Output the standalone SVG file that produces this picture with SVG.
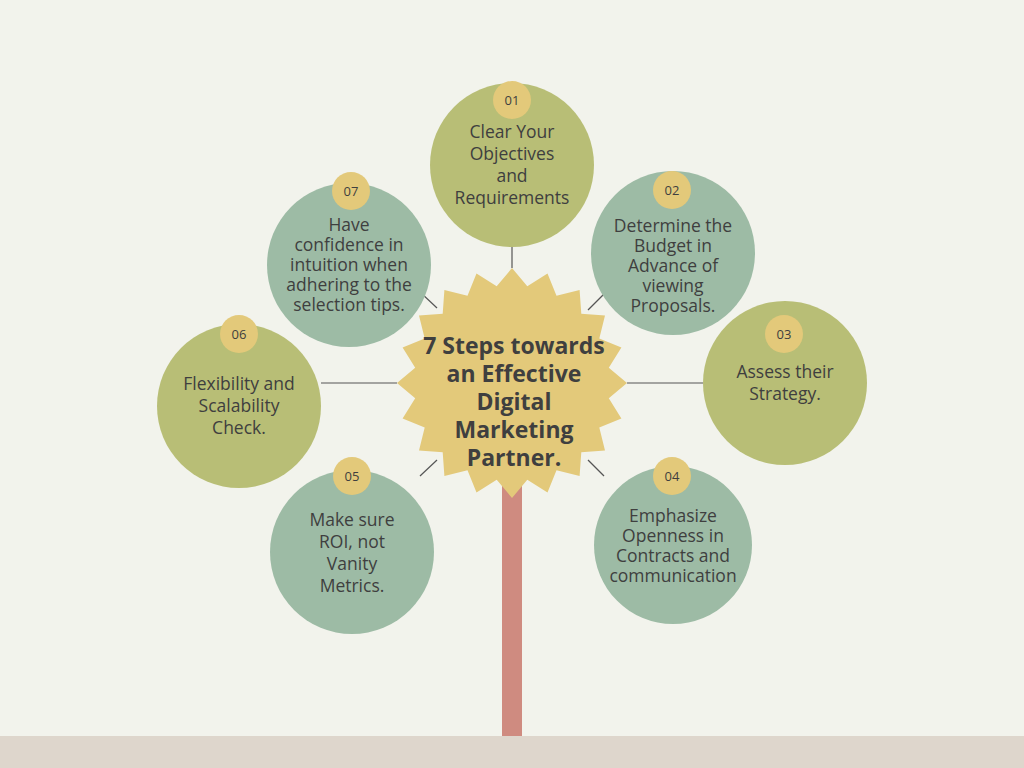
<svg xmlns="http://www.w3.org/2000/svg" width="1024" height="768" viewBox="0 0 1024 768">
<style>
.o{fill:#b8be76}.s{fill:#9dbba5}.b{fill:#e3c97a}
.t{font-family:"Open Sans","Liberation Sans",sans-serif;font-size:17.5px;fill:#3f3f3f;text-anchor:middle}
.n{font-family:"Open Sans","Liberation Sans",sans-serif;font-size:13px;fill:#3f3f3f;text-anchor:middle}
.c{font-family:"Open Sans","Liberation Sans",sans-serif;font-size:23px;font-weight:bold;fill:#3f3f3f;text-anchor:middle}
line{stroke:#555;stroke-width:1.2}
</style>
<rect width="1024" height="768" fill="#f2f3ec"/>
<rect y="736" width="1024" height="32" fill="#ded6cc"/>
<rect x="502" y="480" width="20" height="256" fill="#cf8b80"/>
<g id="connectors">
<line x1="512" y1="230" x2="512" y2="268"/>
<line x1="321" y1="383" x2="397" y2="383"/>
<line x1="627" y1="383" x2="703" y2="383"/>
<line x1="420" y1="292" x2="437" y2="308"/>
<line x1="604" y1="294" x2="588" y2="310"/>
<line x1="420" y1="476" x2="437" y2="460"/>
<line x1="588" y1="460" x2="604" y2="476"/>
</g>
<g id="center">
<polygon class="b" points="512,268 527.3,286.2 547.5,273.6 556.5,295.7 579.6,290 581.3,313.7 605,315.4 599.3,338.5 621.4,347.5 608.8,367.7 627,383 608.8,398.3 621.4,418.5 599.3,427.5 605,450.6 581.3,452.3 579.6,476 556.5,470.3 547.5,492.4 527.3,479.8 512,498 496.7,479.8 476.5,492.4 467.5,470.3 444.4,476 442.7,452.3 419,450.6 424.7,427.5 402.6,418.5 415.2,398.3 397,383 415.2,367.7 402.6,347.5 424.7,338.5 419,315.4 442.7,313.7 444.4,290 467.5,295.7 476.5,273.6 496.7,286.2"/>
<text class="c" x="514" y="354">7 Steps towards<tspan x="514" dy="28">an Effective</tspan><tspan x="514" dy="28">Digital</tspan><tspan x="514" dy="28">Marketing</tspan><tspan x="514" dy="28">Partner.</tspan></text>
</g>
<g id="n01"><circle class="o" cx="512" cy="165" r="82"/><circle class="b" cx="512" cy="100" r="19"/><text class="n" x="512" y="105">01</text>
<text class="t" x="512" y="138">Clear Your<tspan x="512" dy="22">Objectives</tspan><tspan x="512" dy="22">and</tspan><tspan x="512" dy="22">Requirements</tspan></text></g>
<g id="n02"><circle class="s" cx="673" cy="253" r="82"/><circle class="b" cx="672" cy="190" r="19"/><text class="n" x="672" y="195">02</text>
<text class="t" x="673" y="232">Determine the<tspan x="673" dy="20">Budget in</tspan><tspan x="673" dy="20">Advance of</tspan><tspan x="673" dy="20">viewing</tspan><tspan x="673" dy="20">Proposals.</tspan></text></g>
<g id="n03"><circle class="o" cx="785" cy="383" r="82"/><circle class="b" cx="784" cy="334" r="19"/><text class="n" x="784" y="339">03</text>
<text class="t" x="785" y="378">Assess their<tspan x="785" dy="22">Strategy.</tspan></text></g>
<g id="n04"><circle class="s" cx="673" cy="545" r="79"/><circle class="b" cx="672" cy="476" r="19"/><text class="n" x="672" y="481">04</text>
<text class="t" x="673" y="522">Emphasize<tspan x="673" dy="20">Openness in</tspan><tspan x="673" dy="20">Contracts and</tspan><tspan x="673" dy="20">communication</tspan></text></g>
<g id="n05"><circle class="s" cx="352" cy="552" r="82"/><circle class="b" cx="352" cy="476" r="19"/><text class="n" x="352" y="481">05</text>
<text class="t" x="352" y="526">Make sure<tspan x="352" dy="22">ROI, not</tspan><tspan x="352" dy="22">Vanity</tspan><tspan x="352" dy="22">Metrics.</tspan></text></g>
<g id="n06"><circle class="o" cx="239" cy="406" r="82"/><circle class="b" cx="239" cy="334" r="19"/><text class="n" x="239" y="339">06</text>
<text class="t" x="239" y="390">Flexibility and<tspan x="239" dy="22">Scalability</tspan><tspan x="239" dy="22">Check.</tspan></text></g>
<g id="n07"><circle class="s" cx="349" cy="265" r="82"/><circle class="b" cx="351" cy="191" r="19"/><text class="n" x="351" y="196">07</text>
<text class="t" x="349" y="231">Have<tspan x="349" dy="20">confidence in</tspan><tspan x="349" dy="20">intuition when</tspan><tspan x="349" dy="20">adhering to the</tspan><tspan x="349" dy="20">selection tips.</tspan></text></g>
</svg>
